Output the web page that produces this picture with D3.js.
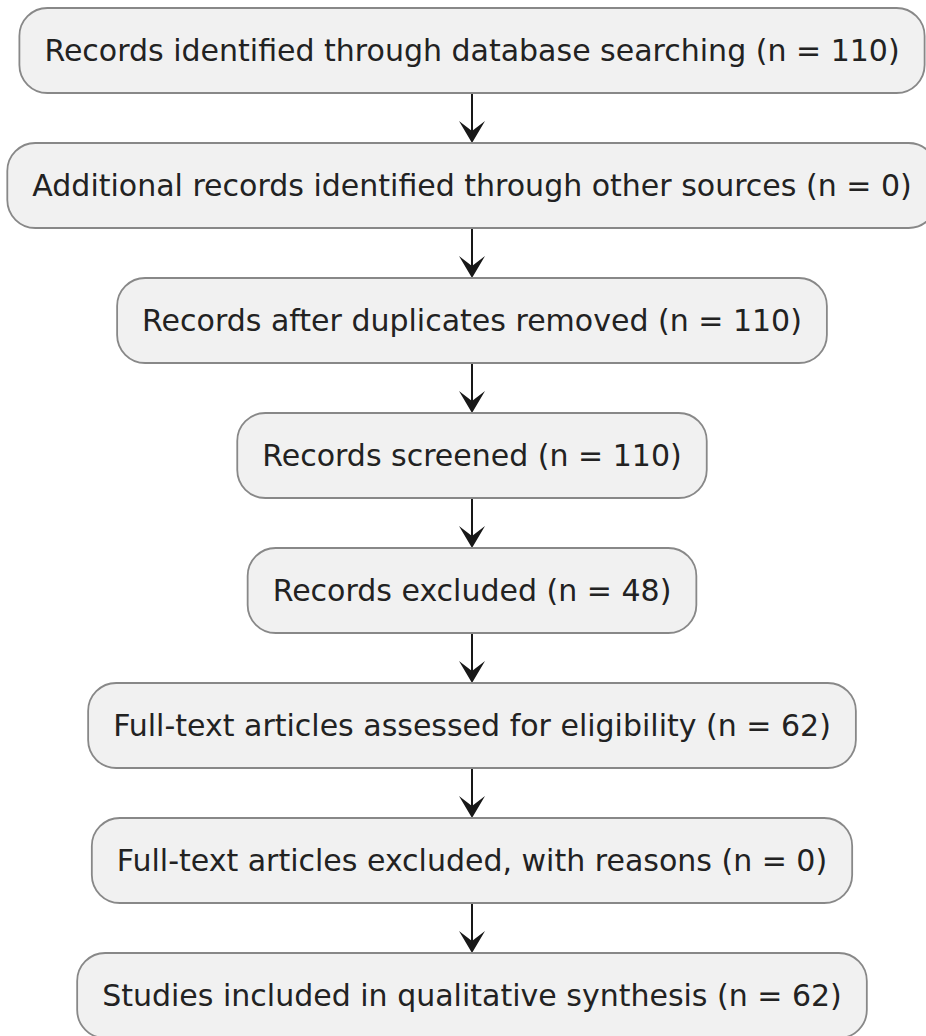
<!DOCTYPE html>
<html>
<head>
<meta charset="utf-8">
<script src="https://cdn.jsdelivr.net/npm/d3@7"></script>
<style>
  html, body { margin: 0; padding: 0; background: #fff; overflow: hidden; }
  .box { fill: #f1f1f1; stroke: #888; stroke-width: 1.8; }
  .label { font-family: "DejaVu Sans", sans-serif; font-size: 30px; fill: #222; }
  .link { stroke: #181818; stroke-width: 2; }
  .head { fill: #181818; }
</style>
</head>
<body>
<div id="flow"></div>
<script>
var steps = [
  "Records identified through database searching",
  "Additional records identified through other sources",
  "Records after duplicates removed",
  "Records screened",
  "Records excluded",
  "Full-text articles assessed for eligibility",
  "Full-text articles excluded, with reasons",
  "Studies included in qualitative synthesis"
];
var counts = [110, 0, 110, 110, 48, 62, 0, 62];

var draw_flow = function() {
  // layout knobs
  var width = 926;
  var height = 1036;
  var center_x = 472;
  var box_height = 85;
  var pad_x = 25;
  var corner = 28;
  var head_w = 13;
  var head_h = 22;
  var head_notch = 12;
  //////////////////

  var y = d3.scaleLinear()
      .domain([0, steps.length - 1])
      .range([8, 953]);

  var svg = d3.select("#flow").append("svg")
      .attr("width", width)
      .attr("height", height);

  var nodes = steps.map(function(s, i) {
    return { text: s + " (n = " + counts[i] + ")", i: i };
  });

  // arrows first so boxes sit over the line ends
  var links = svg.append("g");
  var boxes = svg.append("g");

  var g = boxes.selectAll("g.node")
      .data(nodes)
    .enter().append("g")
      .attr("class", "node");

  var rects = g.append("rect")
      .attr("class", "box")
      .attr("y", function(d) { return y(d.i); })
      .attr("height", box_height)
      .attr("rx", corner)
      .attr("ry", corner);

  g.append("text")
      .attr("class", "label")
      .attr("x", center_x)
      .attr("y", function(d) { return y(d.i) + box_height / 2; })
      .attr("dy", "0.36em")
      .attr("text-anchor", "middle")
      .text(function(d) { return d.text; })
      .each(function(d) { d.w = this.getComputedTextLength() + 2 * pad_x; });

  rects
      .attr("x", function(d) { return center_x - d.w / 2; })
      .attr("width", function(d) { return d.w; });

  var pairs = d3.pairs(nodes);

  links.selectAll("line")
      .data(pairs)
    .enter().append("line")
      .attr("class", "link")
      .attr("x1", center_x)
      .attr("x2", center_x)
      .attr("y1", function(p) { return y(p[0].i) + box_height; })
      .attr("y2", function(p) { return y(p[1].i) - 4; });

  links.selectAll("path")
      .data(pairs)
    .enter().append("path")
      .attr("class", "head")
      .attr("d", function(p) {
        var t = y(p[1].i);
        return "M" + center_x + "," + t +
          "L" + (center_x - head_w) + "," + (t - head_h) +
          "L" + center_x + "," + (t - head_notch) +
          "L" + (center_x + head_w) + "," + (t - head_h) + "Z";
      });
}

draw_flow();
</script>
</body>
</html>
